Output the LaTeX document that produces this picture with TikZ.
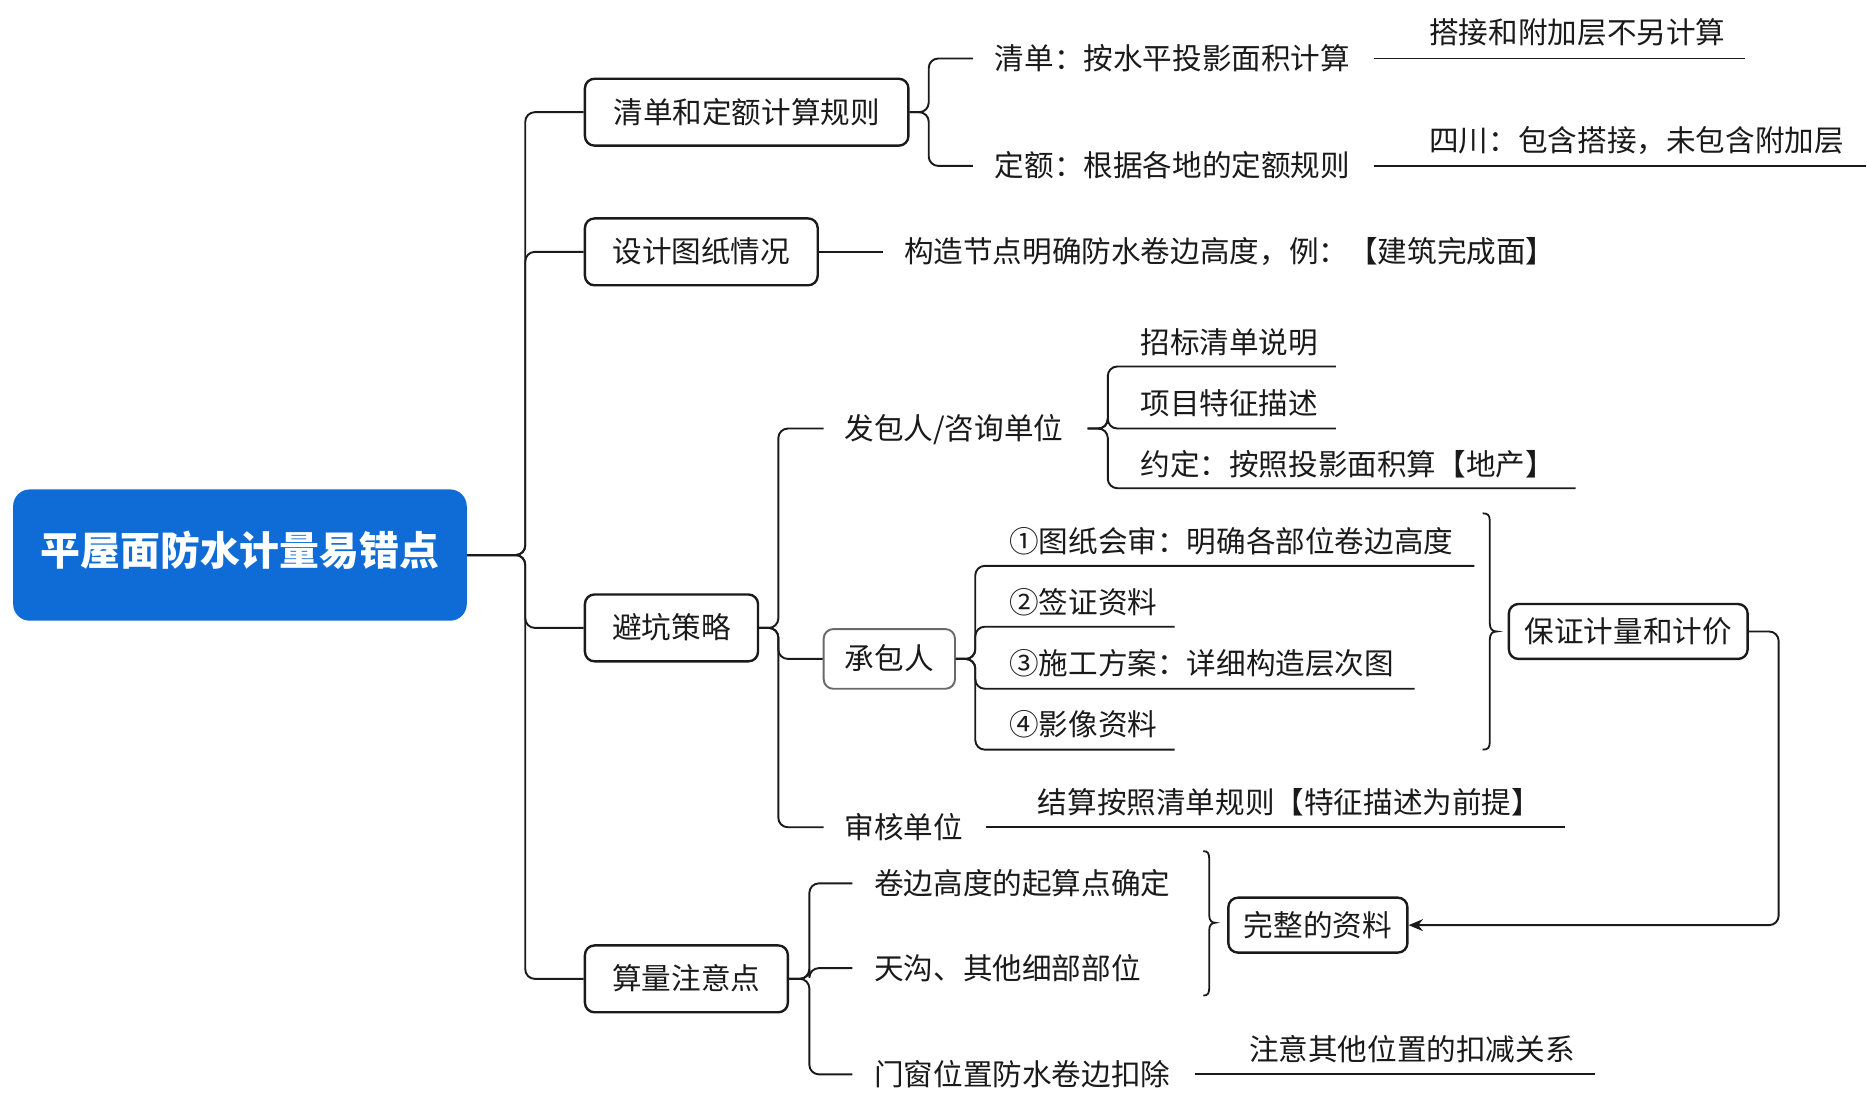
\documentclass[tikz,border=0pt]{standalone}
\usepackage{fontspec}
\setmainfont{Noto Sans CJK SC}
\usetikzlibrary{arrows.meta}
\definecolor{rootblue}{RGB}{15,107,214}
\definecolor{ink}{RGB}{26,26,26}
\definecolor{greyb}{RGB}{105,105,105}
\begin{document}
\begin{tikzpicture}[x=0.5pt,y=-0.5pt,
  font=\fontsize{12.4}{15}\selectfont,
  box/.style={draw=ink, line width=1pt, rounded corners=4pt, inner sep=0pt, text=ink, text height=0.96em, text depth=0.04em},
  lbl/.style={anchor=west, inner sep=0pt, text=ink, text height=0.96em, text depth=0.04em},
  conn/.style={draw=ink, line width=0.8pt, rounded corners=4pt},
  brc/.style={draw=ink, line width=0.75pt}]
\useasboundingbox (0,0) rectangle (1564,929);

% root and boxes
\node[fill=rootblue, rounded corners=7pt, minimum width=190pt, minimum height=55pt, text=white, inner sep=0pt, text height=0.94em, text depth=0.06em, font=\fontsize{16.7}{20}\selectfont\bfseries] (root) at (201,465) {平屋面防水计量易错点};
\node[box, minimum width=135.5pt, minimum height=28pt] (b1) at (625.5,94) {清单和定额计算规则};
\node[box, minimum width=97.5pt, minimum height=28pt] (b2) at (587.5,211) {设计图纸情况};
\node[box, minimum width=72.5pt, minimum height=28pt] (b3) at (562.5,526) {避坑策略};
\node[box, minimum width=85pt, minimum height=28pt] (b4) at (575,820) {算量注意点};
\node[box, draw=greyb, line width=0.8pt, minimum width=55pt, minimum height=25pt] (cb) at (745,552) {承包人};
\node[box, minimum width=100pt, minimum height=23pt] (pb) at (1364,529) {保证计量和计价};
\node[box, minimum width=75pt, minimum height=23pt] (wz) at (1104,775) {完整的资料};

% labels
\node[lbl] (t11) at (833,49) {清单：按水平投影面积计算};
\node[lbl] (t12) at (833,139) {定额：根据各地的定额规则};
\node[lbl] (t111) at (1197,27) {搭接和附加层不另计算};
\node[lbl] (t121) at (1197,118) {四川：包含搭接，未包含附加层};
\node[lbl] (t2) at (757,211) {构造节点明确防水卷边高度，例：【建筑完成面】};
\node[lbl] (t31) at (707,359) {发包人/咨询单位};
\node[lbl] (t311) at (955,287) {招标清单说明};
\node[lbl] (t312) at (955,338) {项目特征描述};
\node[lbl] (t313) at (955,389) {约定：按照投影面积算【地产】};
\node[lbl] (t321) at (845,454) {①图纸会审：明确各部位卷边高度};
\node[lbl] (t322) at (845,505) {②签证资料};
\node[lbl] (t323) at (845,556) {③施工方案：详细构造层次图};
\node[lbl] (t324) at (845,607) {④影像资料};
\node[lbl] (t33) at (707,693) {审核单位};
\node[lbl] (t331) at (869,672) {结算按照清单规则【特征描述为前提】};
\node[lbl] (t41) at (732,740) {卷边高度的起算点确定};
\node[lbl] (t42) at (732,811) {天沟、其他细部部位};
\node[lbl] (t43) at (732,900) {门窗位置防水卷边扣除};
\node[lbl] (t431) at (1046,879) {注意其他位置的扣减关系};

% junctions and line ends
\coordinate (jr) at (440,465);
\coordinate (j1) at (778,94);
\coordinate (j3) at (652,526);
\coordinate (j31) at (928,359);
\coordinate (j32) at (817,552);
\coordinate (j4) at (678,820);
\coordinate (jp) at (1490,529);
\coordinate (u111) at (1462,49);
\coordinate (u121) at (1563,139);
\coordinate (u311) at (1119,307);
\coordinate (u312) at (1119,359);
\coordinate (u313) at (1320,409);
\coordinate (u321) at (1235,474);
\coordinate (u322) at (984,525);
\coordinate (u323) at (1185,577);
\coordinate (u324) at (984,628);
\coordinate (u331) at (1311,693);
\coordinate (u431) at (1336,900);

% main trunk
\draw[conn] (root.east) -- (jr) |- (b1.west);
\draw[conn] (root.east) -- (jr) |- (b2.west);
\draw[conn] (root.east) -- (jr) |- (b3.west);
\draw[conn] (root.east) -- (jr) |- (b4.west);

% rules branch
\draw[conn] (b1.east) -- (j1) |- ([xshift=-9pt]t11.west);
\draw[conn] (b1.east) -- (j1) |- ([xshift=-9pt]t12.west);
\draw[conn] ([xshift=10pt]t11.east) -- (u111);
\draw[conn] ([xshift=10pt]t12.east) -- (u121);

% drawings branch
\draw[conn] (b2.east) -- ([xshift=-8.5pt]t2.west);

% strategy branch
\draw[conn] (b3.east) -- (j3) |- ([xshift=-8.5pt]t31.west);
\draw[conn] (b3.east) -- (j3) |- (cb.west);
\draw[conn] (b3.east) -- (j3) |- ([xshift=-8.5pt]t33.west);
\draw[conn] ([xshift=10pt]t31.east) -- (j31) |- (u311);
\draw[conn] ([xshift=10pt]t31.east) -- (j31) |- (u312);
\draw[conn] ([xshift=10pt]t31.east) -- (j31) |- (u313);
\draw[conn] (cb.east) -- (j32) |- (u321);
\draw[conn] (cb.east) -- (j32) |- (u322);
\draw[conn] (cb.east) -- (j32) |- (u323);
\draw[conn] (cb.east) -- (j32) |- (u324);
\draw[conn] ([xshift=9.5pt]t33.east) -- (u331);

% counting branch
\draw[conn] (b4.east) -- (j4) |- ([xshift=-9pt]t41.west);
\draw[conn] (b4.east) -- (j4) |- ([xshift=-9pt]t42.west);
\draw[conn] (b4.east) -- (j4) |- ([xshift=-9pt]t43.west);
\draw[conn] ([xshift=10pt]t43.east) -- (u431);

% braces
\draw[brc] (1242,430) .. controls (1247,430) and (1248,432) .. (1248,437) -- (1248,522)
  .. controls (1248,527) and (1250,529) .. (1254,529)
  .. controls (1250,529) and (1248,531) .. (1248,536) -- (1248,621)
  .. controls (1248,626) and (1247,628) .. (1242,628);
\draw[brc] (1008,713) .. controls (1012,713) and (1013,715) .. (1013,720) -- (1013,767)
  .. controls (1013,771) and (1015,773) .. (1018,773)
  .. controls (1015,773) and (1013,775) .. (1013,779) -- (1013,827)
  .. controls (1013,832) and (1012,834) .. (1008,834);

% relation arrow
\draw[conn, -{Stealth[length=6pt,width=5pt]}] (pb.east) -- (jp) |- (wz.east);
\end{tikzpicture}
\end{document}
